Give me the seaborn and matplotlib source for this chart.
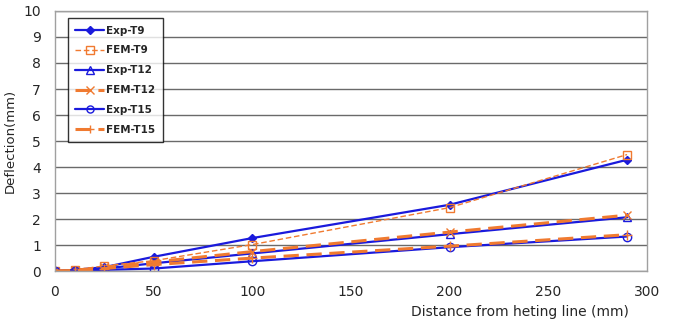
import pandas as pd
import seaborn as sns
import matplotlib.pyplot as plt

distance = [0, 10, 25, 50, 100, 200, 290]
exp_t9 = [0, 0.05, 0.15, 0.55, 1.27, 2.55, 4.28]
fem_t9 = [0, 0.05, 0.2, 0.4, 1.02, 2.44, 4.48]
exp_t12 = [0, 0.02, 0.1, 0.3, 0.68, 1.42, 2.07]
fem_t12 = [0, 0.03, 0.15, 0.35, 0.75, 1.5, 2.15]
exp_t15 = [0, 0.01, 0.05, 0.1, 0.38, 0.92, 1.33]
fem_t15 = [0, 0.02, 0.1, 0.25, 0.5, 0.96, 1.4]

BLUE = "#1a1adc"
ORANGE = "#f07a30"

series = [
    ("Exp-T9", exp_t9, dict(color=BLUE, lw=1.6, ls="-", marker="D", ms=4.5, mfc=BLUE, mec=BLUE)),
    ("FEM-T9", fem_t9, dict(color=ORANGE, lw=1.0, ls=(0, (4, 2)), marker="s", ms=6, mfc="none", mec=ORANGE)),
    ("Exp-T12", exp_t12, dict(color=BLUE, lw=1.6, ls="-", marker="^", ms=6, mfc="none", mec=BLUE)),
    ("FEM-T12", fem_t12, dict(color=ORANGE, lw=2.2, ls=(0, (5, 2.5)), marker="x", ms=6, mfc="none", mec=ORANGE)),
    ("Exp-T15", exp_t15, dict(color=BLUE, lw=1.6, ls="-", marker="o", ms=6, mfc="none", mec=BLUE)),
    ("FEM-T15", fem_t15, dict(color=ORANGE, lw=2.2, ls=(0, (5, 2.5)), marker="+", ms=7, mfc="none", mec=ORANGE)),
]

sns.set_style("white")
plt.rcParams["font.family"] = ["DejaVu Sans"]

fig = plt.figure(figsize=(6.78, 3.22), dpi=100)
ax = fig.add_axes([0.081, 0.158, 0.873, 0.808])

for name, vals, st in series:
    df = pd.DataFrame({"x": distance, "y": vals})
    sns.lineplot(data=df, x="x", y="y", ax=ax, label=name, color=st["color"],
                 linewidth=st["lw"], linestyle=st["ls"], marker=st["marker"],
                 markersize=st["ms"], markerfacecolor=st["mfc"], markeredgecolor=st["mec"],
                 markeredgewidth=1.0)

ax.set_xlim(0, 300)
ax.set_ylim(0, 10)
ax.set_xticks(range(0, 301, 50))
ax.set_yticks(range(0, 11, 1))
ax.yaxis.grid(True, color="#6a6a6a", linewidth=1.0)
ax.xaxis.grid(False)
ax.set_axisbelow(True)
for sp in ax.spines.values():
    sp.set_color("#a0a0a0")
    sp.set_linewidth(1.0)
ax.tick_params(axis="x", direction="in", length=4, color="#606060", labelsize=10, pad=10)
ax.tick_params(axis="y", length=0, labelsize=10, pad=10)

ax.set_ylabel("Deflection(mm)", fontsize=9.5, labelpad=5)
ax.set_xlabel("Distance from heting line (mm)", fontsize=10)
ax.xaxis.set_label_coords(0.97, -0.13)
ax.xaxis.label.set_horizontalalignment("right")

leg = ax.legend(loc="upper left", bbox_to_anchor=(0.013, 0.992), frameon=True,
                fancybox=False, edgecolor="black",
                prop={"weight": "bold", "size": 7.5}, handlelength=2.8,
                labelspacing=0.95, borderpad=0.7, handletextpad=0.2,
                markerscale=0.85)
leg.get_frame().set_linewidth(1.0)

plt.savefig("out.png", dpi=100)
plt.close("all")
